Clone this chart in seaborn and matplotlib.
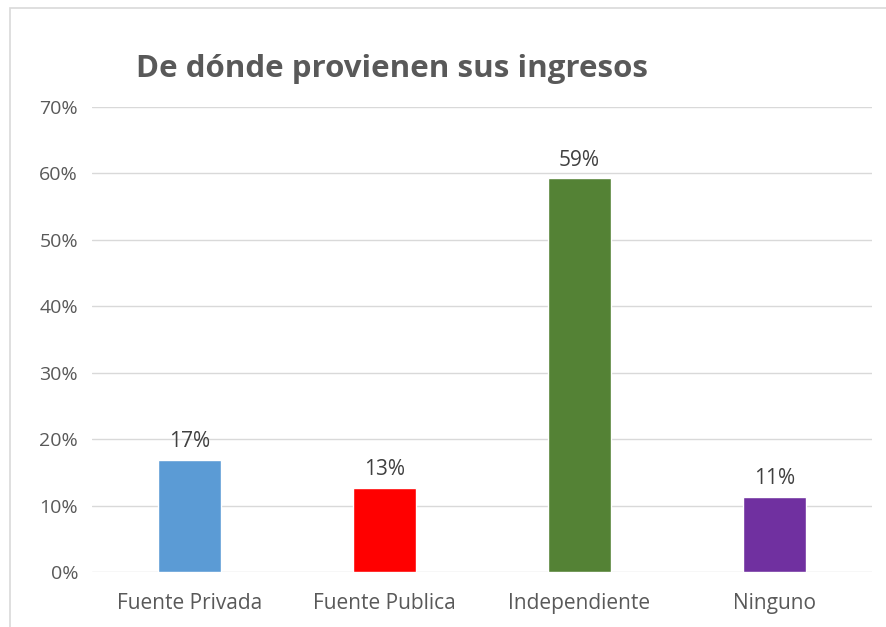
import matplotlib
matplotlib.use("Agg")
import matplotlib.pyplot as plt
import seaborn as sns
import pandas as pd
from matplotlib.patches import Rectangle

categories = ["Fuente Privada", "Fuente Publica", "Independiente", "Ninguno"]
values = [0.169, 0.127, 0.593, 0.113]
labels = ["17%", "13%", "59%", "11%"]
colors = ["#5B9BD5", "#FF0000", "#548235", "#7030A0"]
yticks = [0, 0.1, 0.2, 0.3, 0.4, 0.5, 0.6, 0.7]

sns.set_theme(style="white")
plt.rcParams['font.family'] = ['Open Sans', 'DejaVu Sans']

df = pd.DataFrame({"cat": categories, "val": values})

fig = plt.figure(figsize=(8.86, 6.27), dpi=100)
ax = fig.add_axes([92/886, 1-572/627, 780/886, (572-107)/627])

sns.barplot(data=df, x="cat", y="val", hue="cat", palette=colors, width=0.32,
            legend=False, ax=ax, saturation=1)

ax.set_ylim(0, 0.7)
ax.set_xlim(-0.5, 3.5)
ax.set_yticks(yticks)
ax.set_yticklabels([f"{int(round(t*100))}%" for t in yticks])
ax.yaxis.grid(True, color="#D9D9D9", linewidth=1)
ax.set_axisbelow(True)
for s in ax.spines.values():
    s.set_visible(False)
ax.tick_params(axis="both", length=0, colors="#595959")
ax.tick_params(axis="x", pad=15, labelsize=15)
ax.tick_params(axis="y", pad=10, labelsize=14)
ax.set_xlabel("")
ax.set_ylabel("")

for i, (v, lab) in enumerate(zip(values, labels)):
    ax.annotate(lab, (i, v), xytext=(0, 9), textcoords="offset points",
                ha="center", va="baseline", fontsize=15, color="#404040")

fig.text(136/886, 1-77/627, "De dónde provienen sus ingresos", fontsize=22.5,
         fontweight="bold", color="#595959", ha="left", va="baseline")

fig.patches.append(Rectangle((10/886, -0.05), 1.1, 1-8/627+0.05,
                             transform=fig.transFigure, fill=False,
                             edgecolor="#D9D9D9", linewidth=1.2))

fig.savefig("out.png", dpi=100)
